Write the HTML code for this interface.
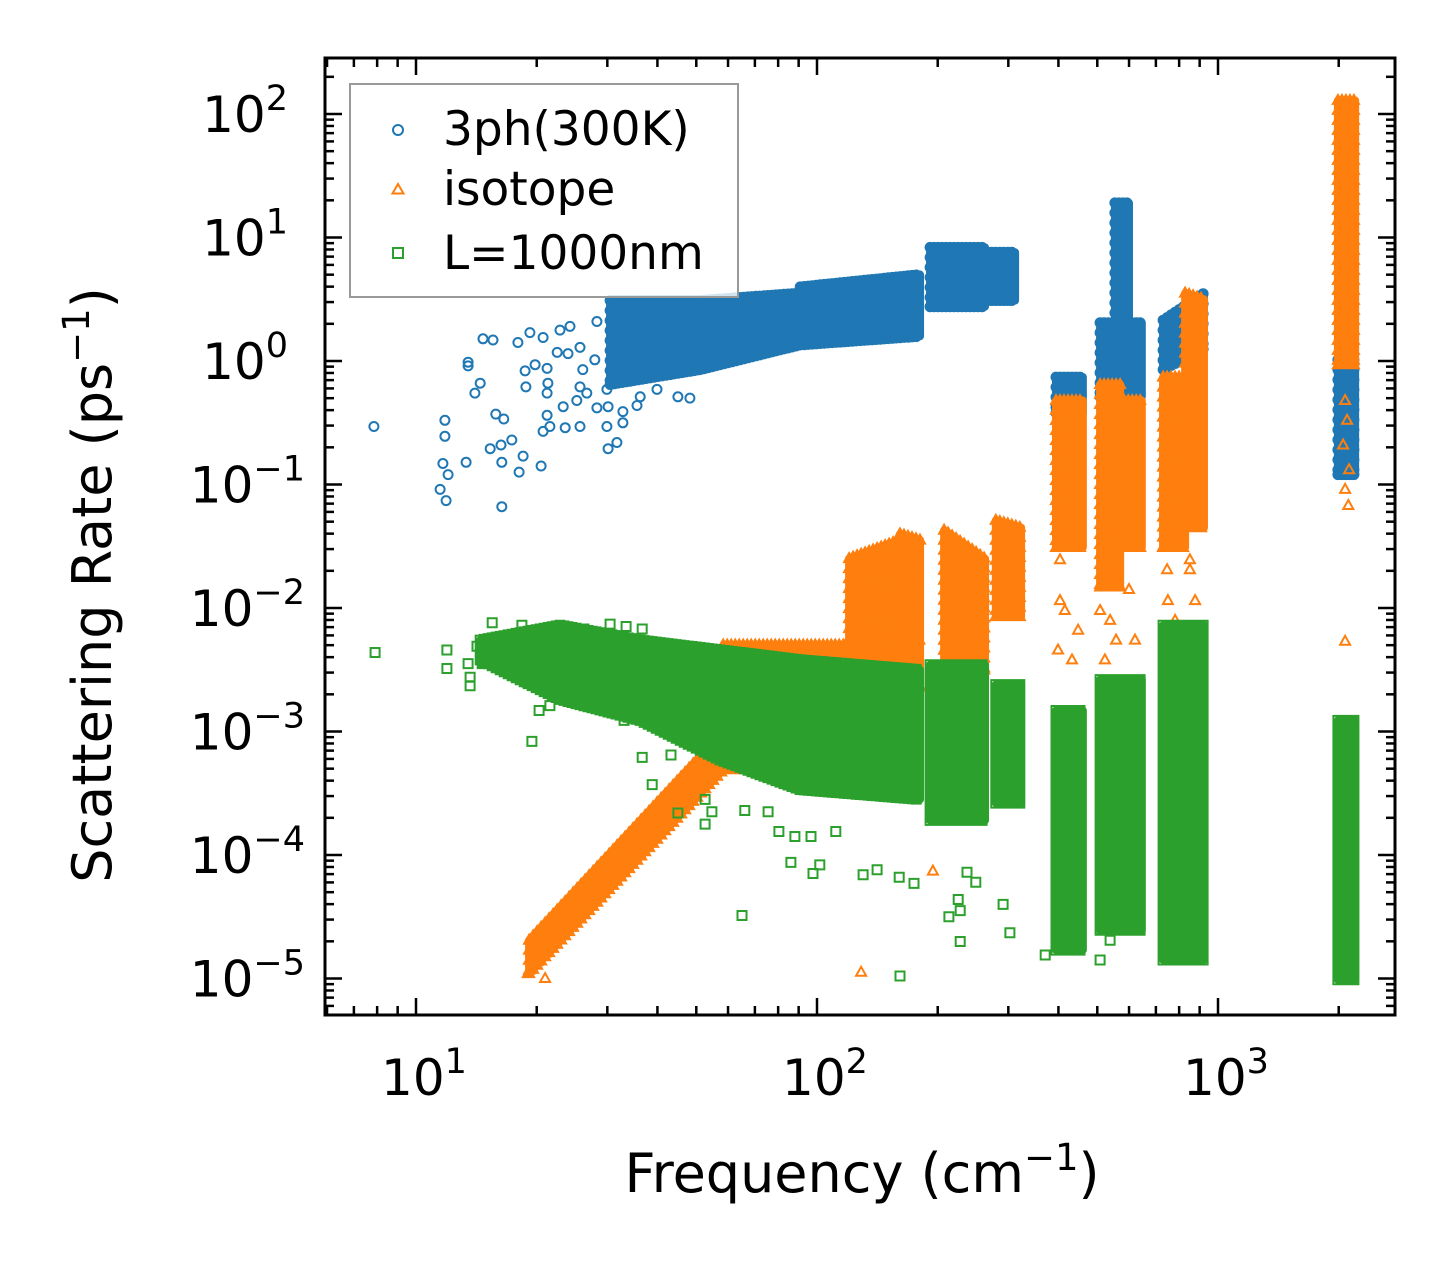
<!DOCTYPE html>
<html><head><meta charset="utf-8"><style>
html,body{margin:0;padding:0;background:#fff;}
svg{display:block;font-family:"DejaVu Sans","Liberation Sans",sans-serif;}
</style></head><body>
<svg id="chart" width="1455" height="1265" viewBox="0 0 1455 1265" xmlns="http://www.w3.org/2000/svg">
<rect width="1455" height="1265" fill="#fff"/>
<g id="marks"></g>
<g id="axes"></g>
<g id="legend">
<rect x="350" y="84" width="388" height="213" fill="#fff" fill-opacity="0.8" stroke="#999" stroke-width="2"/>
<g><circle cx="398" cy="130" r="5" fill="none" stroke="#1f77b4" stroke-width="2"/><text x="443" y="145" font-size="47">3ph(300K)</text></g>
<g><path d="M398,184 L403.5,193.5 L392.5,193.5 Z" fill="none" stroke="#ff7f0e" stroke-width="2"/><text x="443" y="205" font-size="47">isotope</text></g>
<g><rect x="393" y="248" width="10" height="10" fill="none" stroke="#2ca02c" stroke-width="2"/><text x="443" y="269" font-size="47">L=1000nm</text></g>
</g>
<text x="862" y="1192" font-size="54" text-anchor="middle">Frequency (cm<tspan dy="-22" font-size="37">−1</tspan><tspan dy="22">)</tspan></text>
<text transform="translate(111,585) rotate(-90)" font-size="54" text-anchor="middle">Scattering Rate (ps<tspan dy="-22" font-size="37">−1</tspan><tspan dy="22">)</tspan></text>
</svg>
<script>
// ---- data (log10 frequency, log10 rate) ----
const xTickExps = [1, 2, 3];
const yTickExps = [2, 1, 0, -1, -2, -3, -4, -5];
// bands: [logF1, logF2, lo1, hi1, lo2, hi2]
const blueBands = [
 [1.484,1.708,-0.19,0.49,-0.07,0.49],[1.708,1.958,-0.07,0.49,0.13,0.55],[1.958,2.257,0.13,0.60,0.20,0.70],
 [2.282,2.419,0.44,0.92,0.44,0.92],[2.426,2.494,0.49,0.88,0.49,0.88],[2.596,2.663,-0.42,-0.13,-0.42,-0.13],
 [2.706,2.810,-0.29,0.31,-0.29,0.31],[2.743,2.778,0.31,1.28,0.31,1.28],[2.863,2.965,-0.07,0.33,0.1,0.55],
 [3.299,3.342,-0.92,0.01,-0.92,0.01]];
const blueFreq = [0.895,1.072,1.072,1.067,1.080,1.060,1.075,1.130,1.130,1.167,1.192,1.160,1.147,1.125,1.185,1.212,1.239,1.199,1.219,1.214,1.214,1.257,1.267,1.312,1.254,1.272,1.274,1.284,1.297,1.327,1.329,1.327,1.327,1.317,1.334,1.359,1.384,1.317,1.352,1.379,1.409,1.416,1.409,1.426,1.401,1.367,1.372,1.409,1.451,1.479,1.476,1.516,1.516,1.479,1.501,1.451,1.446,1.476,1.551,1.559,1.601,1.653,1.683];
const blueRate = [-0.53,-0.48,-0.61,-0.83,-0.92,-1.04,-1.13,-0.01,-0.04,0.18,0.17,-0.18,-0.26,-0.82,-0.71,-0.68,-0.64,-0.43,-0.47,-0.82,-1.18,-0.90,-0.77,-0.85,0.15,-0.08,-0.21,0.23,-0.03,-0.06,-0.18,-0.26,-0.44,-0.57,-0.53,0.25,0.28,0.19,0.07,0.06,0.11,-0.07,-0.21,-0.26,-0.32,-0.37,-0.54,-0.53,-0.38,-0.37,-0.53,-0.41,-0.50,-0.71,-0.66,0.32,0.01,-0.23,-0.36,-0.29,-0.23,-0.29,-0.30];
const orangeBands = [
 [1.282,1.766,-4.96,-4.69,-3.31,-3.0],[1.766,2.080,-3.31,-2.3,-3.3,-2.3],[2.080,2.207,-2.6,-1.6,-2.6,-1.45],
 [2.207,2.257,-2.64,-1.4,-2.64,-1.45],[2.317,2.419,-2.64,-1.37,-2.5,-1.6],[2.446,2.509,-2.07,-1.29,-2.07,-1.35],
 [2.596,2.663,-1.51,-0.32,-1.51,-0.32],[2.706,2.756,-1.83,-0.19,-1.83,-0.19],[2.756,2.810,-1.51,-0.32,-1.51,-0.32],
 [2.863,2.918,-1.51,-0.13,-1.51,-0.13],[2.918,2.965,-1.35,0.55,-1.35,0.5],[3.299,3.342,-0.03,2.11,-0.03,2.11]];
const orangeFreq = [2.110,3.317,3.317,3.322,3.312,3.327,3.317,3.325,2.606,2.618,2.601,2.636,2.606,2.651,2.716,2.731,2.746,2.718,2.778,2.793,2.706,2.873,2.875,2.893,2.930,2.943,2.930,2.900,2.289,1.279,1.322,2.240,2.255,2.250];
const orangeRate = [-4.95,-2.27,-0.32,-0.48,-0.68,-0.88,-1.04,-1.17,-1.61,-2.02,-2.34,-2.42,-1.94,-2.18,-1.77,-2.10,-2.26,-2.42,-1.85,-2.26,-2.02,-1.69,-1.94,-2.10,-1.69,-1.94,-1.61,-2.26,-4.13,-4.96,-5.0,-2.42,-2.26,-2.34];
const greenBands = [
 [1.160,1.359,-2.42,-2.26,-2.74,-2.14],[1.359,1.559,-2.74,-2.14,-2.91,-2.26],[1.559,1.758,-2.91,-2.26,-3.23,-2.34],
 [1.758,1.958,-3.23,-2.34,-3.47,-2.42],[1.958,2.257,-3.47,-2.42,-3.55,-2.50],[2.282,2.419,-3.72,-2.46,-3.72,-2.46],
 [2.446,2.509,-3.58,-2.62,-3.58,-2.62],[2.596,2.663,-4.77,-2.83,-4.77,-2.83],[2.706,2.810,-4.61,-2.58,-4.61,-2.58],
 [2.863,2.965,-4.85,-2.14,-4.85,-2.14],[3.299,3.342,-5.01,-2.91,-5.01,-2.91]];
const greenFreq = [0.898,1.077,1.077,1.135,1.135,1.130,1.165,1.152,1.190,1.264,1.274,1.277,1.307,1.307,1.334,1.367,1.289,1.419,1.484,1.524,1.564,1.519,1.564,1.589,1.636,1.653,1.721,1.738,1.721,1.813,1.820,1.878,1.905,1.945,1.985,2.047,1.935,1.990,2.007,2.115,2.150,2.205,2.242,2.207,2.329,2.357,2.352,2.357,2.464,2.481,2.374,2.396,2.880,2.569,2.731,2.706,2.930];
const greenRate = [-2.36,-2.34,-2.49,-2.56,-2.63,-2.45,-2.45,-2.31,-2.12,-2.14,-2.44,-2.60,-2.56,-2.83,-2.79,-2.72,-3.08,-2.17,-2.13,-2.15,-2.17,-2.91,-3.21,-3.43,-3.19,-3.66,-3.55,-3.65,-3.75,-4.49,-3.64,-3.65,-3.81,-3.85,-3.85,-3.81,-4.06,-4.15,-4.08,-4.16,-4.12,-4.18,-4.23,-4.98,-4.50,-4.45,-4.36,-4.70,-4.40,-4.63,-4.14,-4.22,-4.81,-4.81,-4.69,-4.85,-4.81];

// ---- axes functions ----
const L=325,R=1395,T=58,B=1015;
const X = lf => 416 + (lf-1)*401;
const Y = lr => 361 - lr*123.5;
const NS="http://www.w3.org/2000/svg";
const marks=document.getElementById('marks'), axes=document.getElementById('axes');
const circ=(x,y)=>`M${x-4.5},${y}a4.5,4.5 0 1,0 9,0a4.5,4.5 0 1,0 -9,0`;
const tri=(x,y)=>`M${x},${y-5.5}L${x+5},${y+3.5}L${x-5},${y+3.5}Z`;
const sq=(x,y)=>`M${x-4.5},${y-4.5}h9v9h-9Z`;
function drawSeries(bands,fr,rt,color,shape,name){
  let d='', fillD='';
  bands.forEach(b=>{
    const x1=X(b[0]),x2=X(b[1]);
    fillD+=`M${x1},${Y(b[3])}L${x2},${Y(b[5])}L${x2},${Y(b[4])}L${x1},${Y(b[2])}Z`;
    for(let x=x1;x<=x2+0.01;x+=4){
      const t=(x2>x1)?(x-x1)/(x2-x1):0;
      const lo=b[2]+(b[4]-b[2])*t, hi=b[3]+(b[5]-b[3])*t;
      const yt=Y(hi), yb=Y(lo);
      d+=shape(+x.toFixed(1),+yt.toFixed(1))+shape(+x.toFixed(1),+yb.toFixed(1));
      if((x-x1)%8<0.01) for(let y=yt;y<=yb;y+=10){ d+=shape(+x.toFixed(1),+y.toFixed(1)); }
    }
  });
  fr.forEach((f,i)=>{ d+=shape(+X(f).toFixed(1),+Y(rt[i]).toFixed(1)); });
  const g=document.createElementNS(NS,'g');
  
  
  const pf=document.createElementNS(NS,'path');
  pf.setAttribute('d',fillD);pf.setAttribute('fill',color);pf.setAttribute('stroke',color);pf.setAttribute('stroke-width','8');pf.setAttribute('stroke-linejoin','round');
  
  
  const p=document.createElementNS(NS,'path');
  p.setAttribute('d',d);p.setAttribute('fill','none');p.setAttribute('stroke',color);p.setAttribute('stroke-width','2');
  
  
  g.appendChild(pf);g.appendChild(p);
  marks.appendChild(g);
}
drawSeries(blueBands,blueFreq,blueRate,'#1f77b4',circ,'series-3ph');
drawSeries(orangeBands,orangeFreq,orangeRate,'#ff7f0e',tri,'series-isotope');
drawSeries(greenBands,greenFreq,greenRate,'#2ca02c',sq,'series-boundary');

// ---- ticks ----
function line(x1,y1,x2,y2,w,name){
  const l=document.createElementNS(NS,'line');
  l.setAttribute('x1',x1);l.setAttribute('y1',y1);l.setAttribute('x2',x2);l.setAttribute('y2',y2);
  l.setAttribute('stroke','#000');l.setAttribute('stroke-width',w);
  
  
  axes.appendChild(l);
}
function label(x,y,exp,anchor,name){
  const t=document.createElementNS(NS,'text');
  t.setAttribute('x',x);t.setAttribute('y',y);t.setAttribute('font-size','50');t.setAttribute('text-anchor',anchor);
  t.innerHTML='10<tspan dy="-22" font-size="35">'+(exp<0?'−'+(-exp):exp)+'</tspan>';
  
  
  axes.appendChild(t);
}
for(let e=0;e<=3;e++){
  for(let m=1;m<=9;m++){
    const x=X(e+Math.log10(m)); if(x<L||x>R) continue;
    const len=m===1?17:9;
    line(x,B,x,B-len,2.5,'x-tick');line(x,T,x,T+len,2.5,'x-tick');
  }
}
xTickExps.forEach(e=>label(X(e)+8,1095,e,'middle','x-tick-label'));
for(let e=-6;e<=2;e++){
  for(let m=1;m<=9;m++){
    const y=Y(e+Math.log10(m)); if(y<T||y>B) continue;
    const len=m===1?17:9;
    line(L,y,L+len,y,2.5,'y-tick');line(R,y,R-len,y,2.5,'y-tick');
  }
}
yTickExps.forEach(e=>label(e<0?305:288,Y(e)+18,e,'end','y-tick-label'));
const fr=document.createElementNS(NS,'rect');
fr.setAttribute('x',L);fr.setAttribute('y',T);fr.setAttribute('width',R-L);fr.setAttribute('height',B-T);
fr.setAttribute('fill','none');fr.setAttribute('stroke','#000');fr.setAttribute('stroke-width','3');


axes.appendChild(fr);
</script>
</body></html>
